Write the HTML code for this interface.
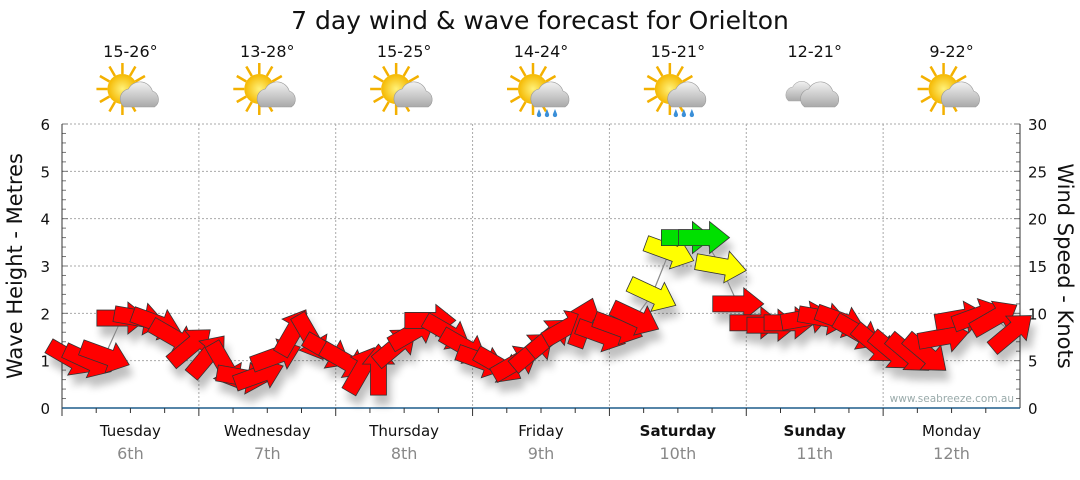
<!DOCTYPE html>
<html><head><meta charset="utf-8"><style>
body{margin:0;background:#fff;font-family:"Liberation Sans","DejaVu Sans",sans-serif}
svg text{font-family:"DejaVu Sans","Liberation Sans",sans-serif}
</style></head><body>
<svg id="c" width="1080" height="475" viewBox="0 0 1080 475">
<defs>
<filter id="sh" x="-50%" y="-50%" width="200%" height="200%"><feGaussianBlur in="SourceAlpha" stdDeviation="4"/><feOffset dx="4" dy="10"/><feComponentTransfer><feFuncA type="linear" slope="0.25"/></feComponentTransfer><feMerge><feMergeNode/><feMergeNode in="SourceGraphic"/></feMerge></filter>
<radialGradient id="sun" cx="0.5" cy="0.5" r="0.5"><stop offset="0" stop-color="#fff27a"/><stop offset="1" stop-color="#f5b800"/></radialGradient>
<linearGradient id="cl" x1="0" y1="0" x2="0" y2="1"><stop offset="0" stop-color="#f2f2f2"/><stop offset="1" stop-color="#a9a9a9"/></linearGradient>
</defs>
<text x="540" y="29" text-anchor="middle" font-size="25" fill="#111">7 day wind &amp; wave forecast for Orielton</text>
<g id="grid"></g><g id="axes"></g><g id="top"></g><g id="marks" filter="url(#sh)"></g>
<text x="1014" y="402" text-anchor="end" font-size="10.5" fill="#9aa">www.seabreeze.com.au</text>
<text transform="translate(22,266) rotate(-90)" text-anchor="middle" font-size="21" fill="#111">Wave Height - Metres</text>
<text transform="translate(1058,266) rotate(90)" text-anchor="middle" font-size="21" fill="#111">Wind Speed - Knots</text>
</svg>
<script>
const days=["Tuesday","Wednesday","Thursday","Friday","Saturday","Sunday","Monday"];
const dates=["6th","7th","8th","9th","10th","11th","12th"];
const boldDays=[false,false,false,false,true,true,false];
const temps=["15-26°","13-28°","15-25°","14-24°","15-21°","12-21°","9-22°"];
const weather=["sun","sun","sun","rain","rain","cloud","sun"];
const waveTicks=[0,1,2,3,4,5,6];
const windTicks=[0,5,10,15,20,25,30];
const timeH=[1.5,4.5,7.5,10.5,13.5,16.5,19.5,22.5];
const waveH=[1.05,1.0,1.1,1.9,1.9,1.8,1.5,1.3, 1.1,0.9,0.65,0.7,1.1,1.6,1.5,1.2, 1.0,0.8,0.8,1.3,1.6,1.85,1.6,1.3, 1.0,0.9,0.95,1.2,1.5,1.7,1.8,1.55, 1.7,1.9,2.4,3.3,3.6,3.6,3.0,2.2, 1.8,1.75,1.8,1.9,1.9,1.85,1.6,1.35, 1.2,1.15,1.15,1.5,1.9,1.95,1.9,1.6];
const windDir=[30,25,20,0,10,20,30,-40, -50,60,10,-20,-20,-60,60,30, 30,-60,-90,-40,-30,0,30,30, 20,30,-30,-40,-40,-30,-70,20, 20,25,25,20,0,0,10,0, 0,0,0,-10,10,20,30,40, 40,40,40,-10,-10,-20,-30,-40];
const windCat=["r","r","r","r","r","r","r","r","r","r","r","r","r","r","r","r","r","r","r","r","r","r","r","r","r","r","r","r","r","r","r","r","r","r","y","y","g","g","y","r","r","r","r","r","r","r","r","r","r","r","r","r","r","r","r","r"];
const X0=62,X1=1020,Y0=408,Y6=124,NS="http://www.w3.org/2000/svg";
const dayW=(X1-X0)/7;
const xs=(d,h)=>X0+(d+h/24)*dayW;
const ys=m=>Y0-(m/6)*(Y0-Y6);
const yw=k=>Y0-(k/30)*(Y0-Y6);
function mk(t,a,p){const e=document.createElementNS(NS,t);for(const k in a)e.setAttribute(k,a[k]);(p||document.getElementById('c')).appendChild(e);return e;}
const grid=document.getElementById('grid'),axes=document.getElementById('axes'),top_=document.getElementById('top'),marks=document.getElementById('marks');
waveTicks.forEach(v=>{if(v>0){const l=mk('line',{x1:X0,x2:X1,y1:ys(v),y2:ys(v),stroke:'#aaa','stroke-dasharray':'2,2'},grid);}
 const t=mk('text',{x:50,y:ys(v)+6,'text-anchor':'end','font-size':15,fill:'#111'},axes);t.textContent=v;});
windTicks.forEach(v=>{const t=mk('text',{x:1028,y:yw(v)+6,'font-size':15,fill:'#111'},axes);t.textContent=v;});
for(let i=0;i<=30;i++){const y=Y0-i*(Y0-Y6)/30;const w=(i%5==0)?6:4;mk('line',{x1:X0,x2:X0+w,y1:y,y2:y,stroke:'#777'},axes);mk('line',{x1:X1,x2:X1-w,y1:y,y2:y,stroke:'#777'},axes);}
mk('line',{x1:X0,x2:X0,y1:Y6,y2:Y0,stroke:'#333'},axes);mk('line',{x1:X1,x2:X1,y1:Y6,y2:Y0,stroke:'#333'},axes);
mk('line',{x1:X0,x2:X1,y1:Y0,y2:Y0,stroke:'#1f5d8c','stroke-width':1.5},axes);
for(let d=0;d<7;d++){
 if(d>0){const l=mk('line',{x1:xs(d,0),x2:xs(d,0),y1:Y6,y2:Y0,stroke:'#aaa','stroke-dasharray':'2,2'},grid);}
 for(let q=0;q<4;q++){const x=xs(d,q*6);mk('line',{x1:x,x2:x,y1:Y0,y2:Y0+(q==0?8:5),stroke:'#333'},axes);}
 const cx=xs(d,12);
 const t=mk('text',{x:cx,y:436,'text-anchor':'middle','font-size':15,fill:'#111','font-weight':boldDays[d]?'bold':'normal'},axes);t.textContent=days[d];
 const t2=mk('text',{x:cx,y:459,'text-anchor':'middle','font-size':16,fill:'#888'},axes);t2.textContent=dates[d];
 const t3=mk('text',{x:cx,y:57,'text-anchor':'middle','font-size':16,fill:'#111'},top_);t3.textContent=temps[d];
 const g=mk('g',{transform:`translate(${cx},95)`},top_);
 if(weather[d]!='cloud'){for(let k=0;k<12;k++){const a=k*30*Math.PI/180;mk('line',{x1:-8+Math.cos(a)*15,y1:-6+Math.sin(a)*15,x2:-8+Math.cos(a)*26,y2:-6+Math.sin(a)*26,stroke:'#f3b000','stroke-width':2.5},g);}
  mk('circle',{cx:-8,cy:-6,r:15,fill:'url(#sun)'},g);
  mk('path',{d:'M-6,12 a10,10 0 0 1 4,-18 a13,13 0 0 1 24,2 a9,9 0 0 1 2,16 z',fill:'url(#cl)',stroke:'#999','stroke-width':0.6},g);
  if(weather[d]=='rain'){[-2,6,14].forEach(x=>mk('path',{d:`M${x},14 l-2,5 a2.2,2.2 0 1 0 4,0 z`,fill:'#3a8fd8'},g));}
 } else {mk('path',{d:'M-26,6 a8,8 0 0 1 4,-14 a10,10 0 0 1 18,0 a7,7 0 0 1 2,14 z',fill:'url(#cl)',stroke:'#aaa','stroke-width':0.6},g);
  mk('path',{d:'M-10,12 a10,10 0 0 1 4,-18 a13,13 0 0 1 24,2 a9,9 0 0 1 2,16 z',fill:'url(#cl)',stroke:'#999','stroke-width':0.6},g);}
}
const pts=waveH.map((h,i)=>[xs(Math.floor(i/8),timeH[i%8]),ys(h)]);
const ln=mk('polyline',{points:pts.map(p=>p.join(',')).join(' '),fill:'none',stroke:'#888','stroke-width':1.2},marks);

const col={r:'#ff0000',y:'#ffff00',g:'#00e000'};
waveH.forEach((h,i)=>{const [x,y]=pts[i];
 const a=mk('polygon',{points:'-25,-8 6,-8 6,-16 26,0 6,16 6,8 -25,8',transform:`translate(${x},${y}) rotate(${windDir[i]})`,fill:col[windCat[i]],stroke:'#333','stroke-width':0.8},marks);
 
 
});
</script>
</body></html>
